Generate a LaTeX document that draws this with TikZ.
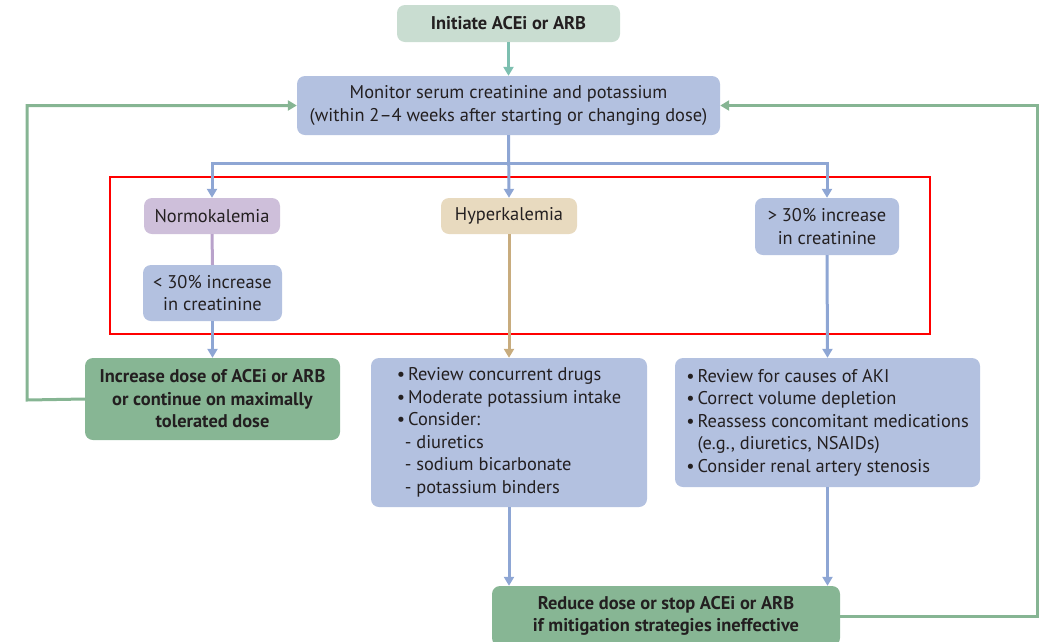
\documentclass[tikz,border=0pt]{standalone}
\usepackage{fontspec}
\setmainfont{PT Sans}
\usetikzlibrary{arrows.meta}
\definecolor{txt}{HTML}{231F20}
\definecolor{initfill}{HTML}{C9DDD1}
\definecolor{bluefill}{HTML}{B3C1E0}
\definecolor{purfill}{HTML}{CEBFDA}
\definecolor{tanfill}{HTML}{E8DABF}
\definecolor{greenfill}{HTML}{87B694}
\definecolor{bluearr}{HTML}{8EA6D4}
\definecolor{greenarr}{HTML}{86B593}
\definecolor{tealarr}{HTML}{7DBFB0}
\definecolor{purarr}{HTML}{B9A2CB}
\definecolor{tanarr}{HTML}{C8AC7E}
\definecolor{redbox}{HTML}{FF0000}
\tikzset{
  box/.style={rounded corners=8pt, inner sep=0pt, text=txt, align=center,
    font=\fontsize{18.4}{22.5}\selectfont},
  boldbox/.style={box, font=\fontsize{18.4}{22.5}\selectfont\bfseries},
  conn/.style={line width=3pt, -{Triangle[width=10pt,length=9pt]}},
  plain/.style={line width=3pt},
}
\newcommand{\bl}{•\hspace{3pt}}
\begin{document}
\begin{tikzpicture}[x=1pt,y=-1pt]
\useasboundingbox (0,0) rectangle (1041,641);
\clip (0,0) rectangle (1041,641);
% nodes
\node[boldbox, fill=initfill, minimum width=223pt, minimum height=37pt] (init) at (508.5,23.5) {Initiate ACEi or ARB};
\node[box, fill=bluefill, minimum width=423pt, minimum height=59pt] (mon) at (508.5,105.5) {Monitor serum creatinine and potassium\\(within 2–4 weeks after starting or changing dose)};
\node[box, fill=purfill, minimum width=136pt, minimum height=36pt] (norm) at (212,216) {Normokalemia};
\node[box, fill=bluefill, minimum width=139pt, minimum height=56pt] (lt) at (212.5,293) {< 30\% increase\\in creatinine};
\node[box, fill=tanfill, minimum width=136pt, minimum height=36pt] (hyp) at (509,216) {Hyperkalemia};
\node[box, fill=bluefill, minimum width=144pt, minimum height=57pt] (gt) at (827,226.5) {> 30\% increase\\in creatinine};
\node[boldbox, fill=greenfill, minimum width=255pt, minimum height=82pt] (inc) at (212.5,399) {Increase dose of ACEi or ARB\\or continue on maximally\\tolerated dose};
\node[box, fill=bluefill, minimum width=276pt, minimum height=149pt, align=left] (act) at (509,432.5) {\bl Review concurrent drugs\\\bl Moderate potassium intake\\\bl Consider:\\\hspace*{8pt}- diuretics\\\hspace*{8pt}- sodium bicarbonate\\\hspace*{8pt}- potassium binders};
\node[box, fill=bluefill, minimum width=305pt, minimum height=129pt, align=left] (aki) at (827.5,422.5) {\bl Review for causes of AKI\\\bl Correct volume depletion\\\bl Reassess concomitant medications\\\hphantom{\bl}(e.g., diuretics, NSAIDs)\\\bl Consider renal artery stenosis};
\node[boldbox, fill=greenfill, minimum width=348pt, minimum height=60pt] (red) at (666,616) {Reduce dose or stop ACEi or ARB\\if mitigation strategies ineffective};
% red highlight frame
\draw[redbox, line width=2pt] (110,177) rectangle (930,334);
% connectors
\draw[conn, tealarr] (init) -- (mon);
\coordinate (bj) at (508.5,163);
\draw[conn, bluearr] (mon.south) -- (hyp.north);
\draw[conn, bluearr] (bj) -| (norm.north);
\draw[conn, bluearr] (bj) -| (gt.north);
\draw[plain, purarr] (norm.south) -- (lt.north);
\draw[conn, bluearr] (lt.south) -- (inc.north);
\draw[conn, tanarr] (hyp.south) -- (act.north);
\draw[conn, bluearr] (gt.south) -- (aki.north);
\draw[conn, bluearr] (act.south) -- (act.south |- red.north);
\draw[conn, bluearr] (aki.south) -- (aki.south |- red.north);
\coordinate (lbend) at (27,400);
\coordinate (rbend) at (1037,616);
\draw[conn, greenarr] (inc.west) -- (lbend) |- (mon.west);
\draw[conn, greenarr] (red.east) -- (rbend) |- (mon.east);
\end{tikzpicture}
\end{document}
